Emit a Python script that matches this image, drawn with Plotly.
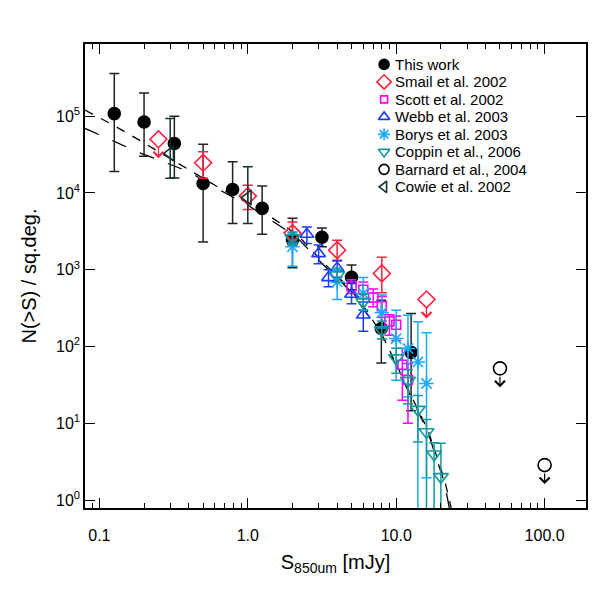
import numpy as np
import plotly.graph_objects as go

# --- data (S in mJy, N(>S) per sq.deg.) ---
# This work
tw_s = [0.126, 0.20, 0.32, 0.50, 0.79, 1.25, 2.0, 3.16, 5.0, 7.94, 12.6]
tw_n = [1.08e5, 8.4e4, 4.4e4, 1.33e4, 1.11e4, 6.3e3, 2.45e3, 2.65e3, 800, 172, 84]
tw_hi = [3.6e5, 2.0e5, 1.0e5, 4.3e4, 2.55e4, 1.23e4, 4.7e3, 3.5e3, 1.15e3, 400, 270]
tw_lo = [1.9e4, 3.0e4, 1.57e4, 2.3e3, 4.0e3, 2.9e3, 1.06e3, 2.0e3, 550, 61, 14.6]

# Smail et al. 2002
smail_s = [0.5, 1.0, 2.0, 4.0, 8.0]
smail_n = [2.47e4, 9.1e3, 3.0e3, 1.8e3, 895]
smail_hi = [3.43e4, 1.26e4, 4.2e3, 2.43e3, 1.45e3]
smail_lo = [1.55e4, 6.1e3, 2.1e3, 1.33e3, 500]
smail_lim_s = [0.25, 16.0]
smail_lim_n = [5.0e4, 410]

# Scott et al. 2002
scott_s = [5, 6, 7, 8, 9, 10, 11, 12]
scott_n = [610, 550, 433, 335, 212, 192, 58, 37]
scott_hi = [740, 690, 560, 450, 260, 250, 95, 60]
scott_lo = [490, 420, 330, 240, 140, 120, 20, 10]

# Webb et al. 2003
webb_s = [2.5, 3.0, 3.5, 4.0, 5.0, 6.0]
webb_n = [2.9e3, 1.62e3, 790, 1.05e3, 480, 258]
webb_hi = [3.6e3, 2.1e3, 1.0e3, 1.3e3, 660, 380]
webb_lo = [2.2e3, 1.2e3, 600, 800, 360, 158]

# Borys et al. 2003
borys_s = [2, 4, 6, 8, 10, 12, 14, 16]
borys_n = [1.99e3, 695, 491, 276, 127, 94.5, 63, 33]
borys_hi = [3.0e3, 1.0e3, 790, 470, 298, 256, 210, 151]
borys_lo = [1.11e3, 410, 300, 175, 36.5, 22, 0.5, 1.96]

# Coppin et al. 2006
coppin_s = [2, 4, 6, 8, 10, 12, 14, 16, 18, 20]
coppin_n = [2.58e3, 851, 382, 164, 70.6, 36, 15.1, 7.7, 3.95, 2.01]
coppin_hi = [3.1e3, 1.05e3, 480, 215, 95, 50, 23, 11.2, 5.6, 5.5]
coppin_lo = [2.1e3, 690, 300, 125, 45, 18, 5.7, 0.3, 0.3, 0.3]

# Barnard et al. 2004 (upper limits)
barnard_s = [50, 100]
barnard_n = [52, 2.86]

# Cowie et al. 2002
cowie_s = [0.3, 1.0]
cowie_n = [3.27e4, 8.7e3]
cowie_hi = [9.3e4, 2.19e4]
cowie_lo = [1.55e4, 4.0e3]

# model curves
fit1_s = [0.08, 0.1205, 0.186, 0.274, 0.405, 0.612, 0.975, 1.40, 1.815, 2.23,
          3.20, 4.85, 6.29, 8.13, 12.65, 16.36, 21.2, 23.6]
fit1_n = [1.20e5, 7.87e4, 4.87e4, 3.10e4, 1.98e4, 1.23e4, 7.59e3, 4.99e3, 3.59e3, 2.66e3,
          1.26e3, 575, 298, 136, 22.6, 8.15, 1.82, 0.75]
fit2_s = [0.08, 0.1205, 0.186, 0.274, 0.405, 0.612, 0.975, 1.40, 1.815, 2.23,
          3.20, 4.85, 6.29, 8.13, 12.65, 16.36, 21.2, 22.9]
fit2_n = [6.92e4, 4.87e4, 3.35e4, 2.52e4, 1.87e4, 1.155e4, 7.15e3, 4.56e3, 3.28e3, 2.43e3,
          1.18e3, 542, 272, 129, 21.3, 7.68, 1.66, 0.75]

x_major = [0.1, 1, 10, 100]
x_labels = ["0.1", "1.0", "10.0", "100.0"]
x_minor = [0.09] + [k * 0.1 for k in range(2, 10)] + list(range(2, 10)) + [k * 10 for k in range(2, 10)]
y_major = [1, 10, 100, 1e3, 1e4, 1e5]
y_labels = ["10<sup>%d</sup>" % i for i in range(6)]

FONT = "Liberation Sans, Arial, Helvetica, sans-serif"
RED, MAG, BLUE, CYAN, TEAL, DARK = "#ff1f3f", "#ff00ff", "#1a3cff", "#18aaff", "#14999a", "#0f3330"


def err(y, hi, lo, color):
    y = np.array(y, dtype=float)
    return dict(type="data", symmetric=False,
                array=np.array(hi) - y, arrayminus=y - np.array(lo),
                color=color, thickness=1.5, width=5)


fig = go.Figure()

fig.add_trace(go.Scatter(x=fit1_s, y=fit1_n, mode="lines",
                         line=dict(color="black", width=1.3, dash="dash")))
fig.add_trace(go.Scatter(x=fit2_s, y=fit2_n, mode="lines",
                         line=dict(color="black", width=1.3, dash="longdash")))

# name, x, y, hi, lo, colour, symbol, size in plot, size in legend
series = [
    ("This work", tw_s, tw_n, tw_hi, tw_lo, "black", "circle", 12, 10),
    ("Smail et al. 2002", smail_s, smail_n, smail_hi, smail_lo, RED, "diamond-open", 13, 11),
    ("Scott et al. 2002", scott_s, scott_n, scott_hi, scott_lo, MAG, "square-open", 9, 7),
    ("Webb et al. 2003", webb_s, webb_n, webb_hi, webb_lo, BLUE, "triangle-up-open", 12, 10),
    ("Borys et al. 2003", borys_s, borys_n, borys_hi, borys_lo, CYAN, "asterisk-open", 12, 10),
    ("Coppin et al., 2006", coppin_s, coppin_n, coppin_hi, coppin_lo, TEAL, "triangle-down-open", 13, 10),
    ("Barnard et al., 2004", barnard_s, barnard_n, None, None, "black", "circle-open", 13, 10),
    ("Cowie et al. 2002", cowie_s, cowie_n, cowie_hi, cowie_lo, DARK, "triangle-left-open", 13, 10),
]

for name, s, n, hi, lo, col, sym, size, _ in series:
    fig.add_trace(go.Scatter(
        x=s, y=n, mode="markers", name=name,
        marker=dict(symbol=sym, size=size, color=col, line=dict(color=col, width=1.6)),
        error_y=err(n, hi, lo, "#222222" if col == "black" else col) if hi is not None else None,
    ))

# Smail upper limits
fig.add_trace(go.Scatter(x=smail_lim_s, y=smail_lim_n, mode="markers",
                         marker=dict(symbol="diamond-open", size=13, color=RED,
                                     line=dict(color=RED, width=1.6))))

# upper-limit arrows
for s, n, col in ([(a, b, RED) for a, b in zip(smail_lim_s, smail_lim_n)] +
                  [(a, b, "black") for a, b in zip(barnard_s, barnard_n)]):
    fig.add_annotation(x=np.log10(s), y=np.log10(n), xref="x", yref="y",
                       text="", showarrow=True, arrowhead=4, arrowsize=1.6,
                       arrowwidth=1.2, arrowcolor=col, ax=0, ay=-12, yshift=-19)

# legend drawn on an overlay axis (0..1 coordinates over the plot area)
leg_x, leg_text_x, leg_y0, leg_dy = 0.597, 0.614, 0.956, 0.0377
for i, (name, _, _, _, _, col, sym, _, lsize) in enumerate(series):
    yy = leg_y0 - i * leg_dy
    fig.add_trace(go.Scatter(x=[leg_x], y=[yy], xaxis="x2", yaxis="y2", mode="markers",
                             marker=dict(symbol=sym, size=lsize, color=col,
                                         line=dict(color=col, width=1.6))))
    fig.add_annotation(x=leg_text_x, y=yy, xref="paper", yref="paper", text=name,
                       showarrow=False, xanchor="left", yanchor="middle",
                       font=dict(size=15, color="black", family=FONT))

axis_common = dict(showline=True, linecolor="black", linewidth=1.5, mirror="allticks",
                   ticks="inside", tickcolor="black", tickwidth=1.2, showgrid=False,
                   zeroline=False, automargin=False,
                   tickfont=dict(size=16, color="black", family=FONT))

fig.update_layout(
    xaxis=dict(type="log", range=[np.log10(0.08), np.log10(190)],
               tickvals=x_major, ticktext=x_labels, ticklen=10, ticklabelstandoff=12,
               minor=dict(tickvals=x_minor, ticks="inside", ticklen=5, tickcolor="black", tickwidth=1.2),
               title=dict(text="S<sub>850um</sub> [mJy]", font=dict(size=20, color="black", family=FONT),
                          standoff=12),
               **axis_common),
    yaxis=dict(type="log", range=[np.log10(0.79), np.log10(8.7e5)],
               tickvals=y_major, ticktext=y_labels, ticklen=10, ticklabelstandoff=0,
               title=dict(text="N(>S) / sq.deg.", font=dict(size=20, color="black", family=FONT),
                          standoff=14),
               **axis_common),
    xaxis2=dict(overlaying="x", range=[0, 1], visible=False),
    yaxis2=dict(overlaying="y", range=[0, 1], visible=False),
    width=599, height=599,
    # page body adds an 8px offset, so margins are trimmed on the left/top
    margin=dict(l=77, r=21, t=36, b=99),
    plot_bgcolor="white", paper_bgcolor="white",
    font=dict(family=FONT, color="black"),
    showlegend=False,
)

fig.write_html("out.html")
